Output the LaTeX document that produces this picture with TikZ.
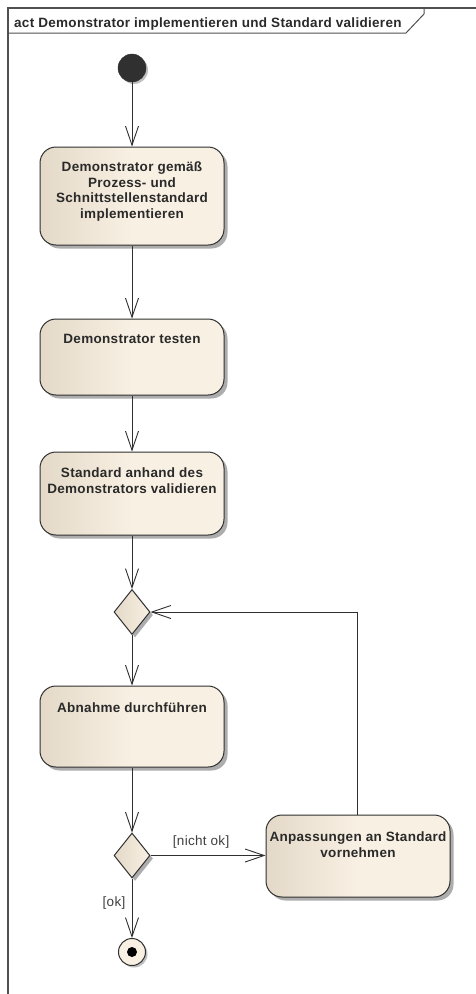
\documentclass[tikz,border=0pt]{standalone}
\usepackage{fontspec}
\setmainfont{Liberation Sans}
\newfontfamily\actfont[LetterSpace=2.2]{Liberation Sans}
\usetikzlibrary{arrows.meta,shapes.geometric,shadows}

\definecolor{tanL}{HTML}{E4D9C8}
\definecolor{tanR}{HTML}{F8F0E3}
\definecolor{edgecol}{HTML}{303030}
\definecolor{framecol}{HTML}{505050}
\definecolor{txtcol}{HTML}{2A2A2A}
\definecolor{guardcol}{HTML}{404040}

\tikzset{
  actbox/.style={draw=edgecol, line width=1pt, rounded corners=16pt,
    left color=tanL, right color=tanR, middle color=tanR,
    drop shadow={shadow xshift=3.5pt, shadow yshift=-3.5pt, fill=black!32, opacity=1},
    minimum width=184pt, inner sep=0pt},
  acttext/.style={anchor=north, align=center, inner sep=0pt, text=txtcol,
    font=\actfont\bfseries\fontsize{13.5}{15.7}\selectfont},
  decision/.style={diamond, draw=edgecol, line width=1pt, aspect=0.8,
    left color=tanL, right color=tanR,
    drop shadow={shadow xshift=3pt, shadow yshift=-3pt, fill=black!32, opacity=1},
    minimum width=36pt, minimum height=45pt, inner sep=0pt},
  flow/.style={draw=edgecol, line width=0.9pt,
    -{Straight Barb[length=19pt, width=13pt, line width=0.9pt]}},
  guard/.style={text=guardcol, inner sep=0pt, font=\actfont\fontsize{13.5}{15}\selectfont},
}

\begin{document}
\begin{tikzpicture}[x=1pt, y=-1pt]
  \useasboundingbox (0,0) rectangle (476,994);
  \fill[white] (0,0) rectangle (476,994);

  % diagram frame with its name tab
  \draw[framecol, line width=1.3pt] (8,1000) -- (8,8) -- (480,8);
  \draw[framecol, line width=1pt] (8,33) -- (406,33) -- (424,14) -- (424,8);
  \node[anchor=base west, inner sep=0pt, text=txtcol,
        font=\actfont\bfseries\fontsize{13.5}{15}\selectfont] (title) at (14,27)
       {act Demonstrator implementieren und Standard validieren};

  % initial and final nodes
  \node[circle, fill=edgecol, draw=edgecol, minimum size=28pt, inner sep=0pt,
        drop shadow={shadow xshift=2pt, shadow yshift=-2pt, fill=black!25, opacity=1}] (init) at (132,68) {};
  \node[circle, draw=edgecol, line width=1pt, fill=tanR, minimum size=27pt, inner sep=0pt,
        drop shadow={shadow xshift=2pt, shadow yshift=-2pt, fill=black!25, opacity=1}] (fin) at (132,952) {};
  \node[circle, fill=black, minimum size=10pt, inner sep=0pt] (findot) at (fin.center) {};

  % actions
  \node[actbox, minimum height=98pt] (b1) at (132,196) {};
  \node[acttext] (t1) at ([yshift=-15pt]b1.north)
       {Demonstrator gemäß\\Prozess- und\\Schnittstellenstandard\\implementieren};

  \node[actbox, minimum height=76pt] (b2) at (132,357) {};
  \node[acttext] (t2) at ([yshift=-16pt]b2.north) {Demonstrator testen};

  \node[actbox, minimum height=83pt] (b3) at (132,493.5) {};
  \node[acttext] (t3) at ([yshift=-16pt]b3.north)
       {Standard anhand des\\Demonstrators validieren};

  \node[actbox, minimum height=81pt] (b4) at (132,726.5) {};
  \node[acttext] (t4) at ([yshift=-17pt]b4.north) {Abnahme durchführen};

  \node[actbox, minimum height=82pt] (b5) at (358,856) {};
  \node[acttext] (t5) at ([yshift=-17pt]b5.north)
       {Anpassungen an Standard\\vornehmen};

  % decisions / merges
  \node[decision] (d1) at (132,612) {};
  \node[decision] (d2) at (132,855.5) {};

  % control flows
  \draw[flow] (init) -- (b1);
  \draw[flow] (b1) -- (b2);
  \draw[flow] (b2) -- (b3);
  \draw[flow] (b3) -- (d1);
  \draw[flow] (d1) -- (b4);
  \draw[flow] (b4) -- (d2);
  \draw[flow] (d2.east) -- (d2.east -| b5.west)
       node[guard, pos=0.44, yshift=13.5pt] (gno) {[nicht ok]};
  \draw[flow] (d2.south) -- (fin.north)
       node[guard, pos=0.41, xshift=-18pt] (gok) {[ok]};
  \draw[flow] ([xshift=-1pt]b5.north) |- (d1.east);
\end{tikzpicture}
\end{document}
